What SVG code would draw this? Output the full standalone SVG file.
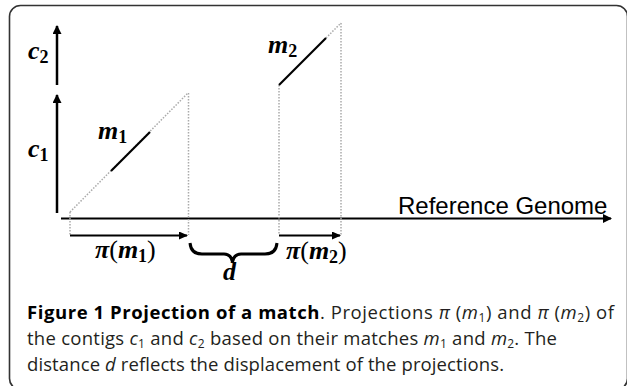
<svg xmlns="http://www.w3.org/2000/svg" width="627" height="386" viewBox="0 0 627 386">
<style>
.math{font-family:"Liberation Serif","Times New Roman",serif;font-style:italic;font-weight:bold;font-size:26px;fill:#000}
.sub{font-style:normal;font-size:18px}
.up{font-style:normal;font-weight:normal}
.dot{stroke:#aaaaaa;stroke-width:1.5;stroke-dasharray:1.5 1.5;fill:none}
.solid{stroke:#000;stroke-width:2.2;fill:none}
.cap{font-family:"Open Sans","Noto Sans",sans-serif;font-size:18.5px;fill:#231f20}
.capb{font-weight:bold;fill:#000}
.it{font-style:italic}
.cs{font-size:12px}
</style>
<defs>
<marker id="ah" markerWidth="10" markerHeight="10" refX="8" refY="4" orient="auto" markerUnits="userSpaceOnUse">
<path d="M0,0 L9,4 L0,8 Z" fill="#000"/>
</marker>
<marker id="ahs" markerWidth="10" markerHeight="10" refX="8" refY="4.5" orient="auto" markerUnits="userSpaceOnUse">
<path d="M0,0 L9,4.5 L0,9 Z" fill="#000"/>
</marker>
</defs>
<rect id="frame" x="9.5" y="5.5" width="618" height="384" rx="11" fill="none" stroke="#333" stroke-width="1.6"/>
<g id="connectors">
<line x1="57" y1="85" x2="57" y2="26" stroke="#000" stroke-width="2.5" marker-end="url(#ahs)"/>
<line x1="57" y1="213" x2="57" y2="95" stroke="#000" stroke-width="2.5" marker-end="url(#ahs)"/>
<line x1="61" y1="218.5" x2="611" y2="218.5" stroke="#000" stroke-width="2.2" marker-end="url(#ahs)"/>
<line class="dot" x1="70" y1="212" x2="188" y2="93"/>
<line class="dot" x1="70" y1="212" x2="70" y2="235"/>
<line class="dot" x1="188.5" y1="93" x2="188.5" y2="235"/>
<line class="dot" x1="279" y1="85" x2="279" y2="235"/>
<line class="dot" x1="341" y1="23" x2="341" y2="235"/>
<line class="dot" x1="326" y1="38" x2="341" y2="23"/>
<line x1="70" y1="235.5" x2="187" y2="235.5" stroke="#000" stroke-width="2" marker-end="url(#ah)"/>
<line x1="279" y1="235.5" x2="340" y2="235.5" stroke="#000" stroke-width="2" marker-end="url(#ah)"/>
<path d="M190,243 Q191,254 202,254 L224,254 Q231,254 232.5,262 Q234,254 241,254 L265,254 Q276,254 277,243" fill="none" stroke="#000" stroke-width="3"/>
</g>
<g id="m1">
<line class="solid" x1="111" y1="171" x2="150" y2="132"/>
<text class="math" x="98" y="139">m<tspan class="sub" dy="4">1</tspan></text>
</g>
<g id="m2">
<line class="solid" x1="279" y1="85" x2="326" y2="38"/>
<text class="math" x="268" y="53">m<tspan class="sub" dy="4">2</tspan></text>
</g>
<g id="c2">
<text class="math" x="28" y="59">c<tspan class="sub" dy="4">2</tspan></text>
</g>
<g id="c1">
<text class="math" x="28" y="157">c<tspan class="sub" dy="4">1</tspan></text>
</g>
<g id="pi1">
<text class="math" x="95" y="258">π<tspan class="up">(</tspan>m<tspan class="sub" dy="4">1</tspan><tspan class="up" dy="-4">)</tspan></text>
</g>
<g id="pi2">
<text class="math" x="286" y="259">π<tspan class="up">(</tspan>m<tspan class="sub" dy="4">2</tspan><tspan class="up" dy="-4">)</tspan></text>
</g>
<g id="d">
<text class="math" x="223" y="280" font-size="24">d</text>
</g>
<g id="genome">
<text x="398" y="214" font-family="Liberation Sans, Arial, sans-serif" font-size="24" fill="#000">Reference Genome</text>
</g>
<g id="caption">
<text class="cap" x="27" y="319" textLength="587"><tspan class="capb">Figure 1 Projection of a match</tspan>. Projections <tspan class="it">π</tspan> (<tspan class="it">m</tspan><tspan class="cs" dy="3">1</tspan><tspan dy="-3">) and </tspan><tspan class="it">π</tspan> (<tspan class="it">m</tspan><tspan class="cs" dy="3">2</tspan><tspan dy="-3">) of</tspan></text>
<text class="cap" x="27" y="345" textLength="530"><tspan>the contigs </tspan><tspan class="it">c</tspan><tspan class="cs" dy="3">1</tspan><tspan dy="-3"> and </tspan><tspan class="it">c</tspan><tspan class="cs" dy="3">2</tspan><tspan dy="-3"> based on their matches </tspan><tspan class="it">m</tspan><tspan class="cs" dy="3">1</tspan><tspan dy="-3"> and </tspan><tspan class="it">m</tspan><tspan class="cs" dy="3">2</tspan><tspan dy="-3">. The</tspan></text>
<text class="cap" x="27" y="371" textLength="477">distance <tspan class="it">d</tspan> reflects the displacement of the projections.</text>
</g>
</svg>
